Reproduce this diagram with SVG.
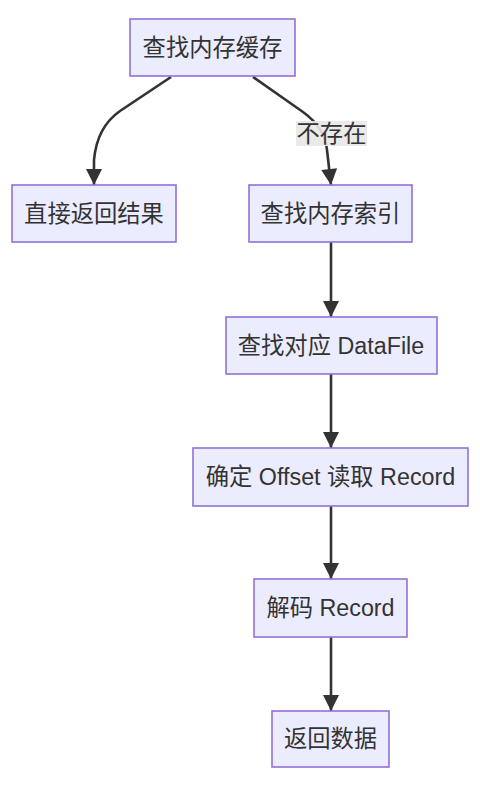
<svg xmlns="http://www.w3.org/2000/svg" width="480" height="787" viewBox="0 0 480 787">
<style>
.node rect{fill:#ECECFF;stroke:#9370DB;stroke-width:1.6}
.node text{font-family:"Liberation Sans","Noto Sans CJK SC",sans-serif;font-size:23.3px;fill:#333;text-anchor:middle;dominant-baseline:central}
.edge{fill:none;stroke:#333;stroke-width:2.6}
.lbl{font-family:"Liberation Sans","Noto Sans CJK SC",sans-serif;font-size:23.3px;fill:#333;text-anchor:middle;dominant-baseline:central}
</style>
<defs>
<marker id="arr" viewBox="0 0 10 10" refX="10" refY="5" markerWidth="18" markerHeight="16" markerUnits="userSpaceOnUse" orient="auto">
<path d="M0,0 L10,5 L0,10 z" fill="#333"/>
</marker>
</defs>
<rect width="480" height="787" fill="#fff"/>
<g id="edges">
<path class="edge" d="M171,77 L120,111 Q97,127 94,160 L94,185" marker-end="url(#arr)"/>
<path class="edge" d="M253,77 L303,112 Q325,128 327,150 L331,185" marker-end="url(#arr)"/>
<path class="edge" d="M331,242 L331,317" marker-end="url(#arr)"/>
<path class="edge" d="M331,374 L331,448" marker-end="url(#arr)"/>
<path class="edge" d="M331,506 L331,579" marker-end="url(#arr)"/>
<path class="edge" d="M331,637 L331,711" marker-end="url(#arr)"/>
<g id="edge-label">
<rect x="296" y="121" width="71" height="25" fill="#e8e8e8" opacity="0.9"/>
<text class="lbl" x="331.5" y="133.5">不存在</text>
</g>
</g>
<g id="n1" class="node"><rect x="130" y="19" width="165" height="57"/><text x="212.5" y="47.5">查找内存缓存</text></g>
<g id="n2" class="node"><rect x="12" y="185" width="164" height="57"/><text x="94" y="213.5">直接返回结果</text></g>
<g id="n3" class="node"><rect x="249" y="185" width="163" height="57"/><text x="330.5" y="213.5">查找内存索引</text></g>
<g id="n4" class="node"><rect x="226" y="317" width="211" height="57"/><text x="331" y="345.5">查找对应 DataFile</text></g>
<g id="n5" class="node"><rect x="193" y="448" width="275" height="58"/><text x="330.5" y="477">确定 Offset 读取 Record</text></g>
<g id="n6" class="node"><rect x="254" y="579" width="153" height="58"/><text x="330.5" y="608">解码 Record</text></g>
<g id="n7" class="node"><rect x="272" y="711" width="117" height="56"/><text x="330.5" y="739">返回数据</text></g>
</svg>
